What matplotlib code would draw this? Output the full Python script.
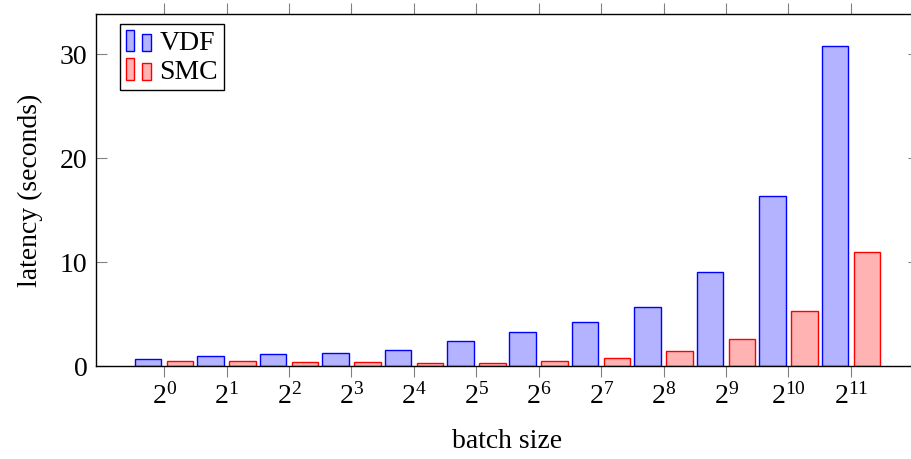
import matplotlib
matplotlib.use("Agg")
import matplotlib.pyplot as plt
import numpy as np
from matplotlib.patches import Rectangle
from matplotlib.legend_handler import HandlerBase

plt.rcParams['font.family'] = ['Liberation Serif', 'DejaVu Serif']
plt.rcParams['mathtext.fontset'] = 'custom'
plt.rcParams['mathtext.rm'] = 'Liberation Serif'
plt.rcParams['mathtext.it'] = 'Liberation Serif:italic'

exponents = list(range(12))
tick_labels = [f"$2^{{{e}}}$" for e in exponents]
vdf = [0.74, 0.96, 1.16, 1.25, 1.57, 2.44, 3.28, 4.24, 5.66, 9.04, 16.33, 30.77]
smc = [0.51, 0.48, 0.41, 0.38, 0.35, 0.32, 0.54, 0.80, 1.45, 2.67, 5.27, 10.96]

vdf_face, vdf_edge = '#B3B3FF', '#0000FF'
smc_face, smc_edge = '#FFB3B3', '#FF0000'

FS = 20

fig = plt.figure(figsize=(9.12, 4.59), dpi=100)
ax = fig.add_axes([96/912, 1 - 366.3/459, (919-96)/912, (366.3-14)/459])

x = np.arange(len(exponents))
w = 0.425
off = 0.256
ax.bar(x - off, vdf, w, color=vdf_face, edgecolor=vdf_edge, linewidth=1.0, label='VDF')
ax.bar(x + off, smc, w, color=smc_face, edgecolor=smc_edge, linewidth=1.0, label='SMC')

ax.set_xlim(-1.09, 12.09)
ax.set_ylim(0, 33.85)
ax.set_xticks(x)
ax.set_xticklabels(tick_labels, fontsize=FS)
ax.set_yticks([0, 10, 20, 30])
ax.tick_params(axis='y', labelsize=FS, direction='in', length=8, width=0.8,
               color='#808080', left=True, right=True, pad=6)
ax.tick_params(axis='x', direction='out', length=8, width=0.8, color='#808080',
               bottom=True, top=True, pad=4)
for s in ax.spines.values():
    s.set_linewidth(1.0)
    s.set_color('black')

ax.set_xlabel('batch size', fontsize=FS, labelpad=14)
ax.set_ylabel('latency (seconds)', fontsize=FS, labelpad=12)


class DoubleBarHandler(HandlerBase):
    def __init__(self, face, edge):
        super().__init__()
        self.face = face
        self.edge = edge

    def create_artists(self, legend, orig_handle, xdescent, ydescent, width, height, fontsize, trans):
        x0 = -xdescent
        y0 = -ydescent
        bw = width * 0.34
        r1 = Rectangle((x0, y0), bw, height, facecolor=self.face,
                       edgecolor=self.edge, linewidth=1.0, transform=trans)
        r2 = Rectangle((x0 + width * 0.66, y0), bw, height * 0.78, facecolor=self.face,
                       edgecolor=self.edge, linewidth=1.0, transform=trans)
        return [r1, r2]


h1 = Rectangle((0, 0), 1, 1)
h2 = Rectangle((0, 0), 1, 1)
leg = ax.legend([h1, h2], ['VDF', 'SMC'], loc='upper left',
                bbox_to_anchor=(24/823, 1 - 10/352.3),
                handler_map={h1: DoubleBarHandler(vdf_face, vdf_edge),
                             h2: DoubleBarHandler(smc_face, smc_edge)},
                fontsize=FS, frameon=True, fancybox=False, framealpha=1,
                edgecolor='black', handlelength=0.92, handleheight=0.82,
                handletextpad=0.3, borderpad=0.2, labelspacing=0.08,
                borderaxespad=0)
leg.get_frame().set_linewidth(1.0)

fig.savefig('out.png', dpi=100)
